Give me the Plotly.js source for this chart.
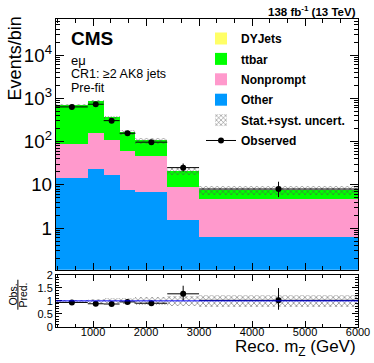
<!DOCTYPE html>
<html>
<head>
<meta charset="utf-8">
<script src="https://cdn.plot.ly/plotly-3.0.1.min.js"></script>
<style>
  html, body { margin: 0; padding: 0; background: #fff; }
  #plot { width: 374px; height: 363px; }
</style>
</head>
<body>
<div id="plot"></div>
<script>
// bin edges of Reco. m_Z (GeV)
const edges = [300, 900, 1200, 1500, 1800, 2400, 3000, 6000];

// pre-fit yields per bin
const other     = [14.7, 23.4, 17.0, 7.8, 7.0, 1.55, 0.62];
const nonprompt = [73.3, 132.6, 93.0, 53.2, 40.5, 7.55, 3.98];
const ttbar     = [612, 704, 252, 104, 58.5, 11.9, 3.1];
const dyjets    = [0.8, 1.0, 0.5, 0.3, 0.2, 0.05, 0.03];

// relative stat.+syst. uncertainty
const uncRel = [0.05, 0.09, 0.10, 0.12, 0.15, 0.20, 0.24];

// observed events
const observed = [633, 731, 305, 156, 97, 25, 8];
const obsErrUp = [25.7, 28.0, 18.0, 13.0, 10.9, 6.1, 3.8];
const obsErrDn = [24.7, 27.0, 17.0, 12.0, 9.9, 4.9, 2.8];

// ratio panel
const ratio      = [0.94, 0.89, 0.88, 0.96, 0.91, 1.27, 1.02];
const ratioErrUp = [0.037, 0.034, 0.05, 0.08, 0.095, 0.31, 0.47];
const ratioErrDn = [0.036, 0.033, 0.05, 0.075, 0.09, 0.25, 0.36];

const centers = edges.slice(0, -1).map((e, i) => (e + edges[i + 1]) / 2);
const widths = edges.slice(0, -1).map((e, i) => edges[i + 1] - e);
const halfW = widths.map(w => w / 2);

const base1 = other;
const base2 = other.map((v, i) => v + nonprompt[i]);
const base3 = base2.map((v, i) => v + ttbar[i]);
const total = base3.map((v, i) => v + dyjets[i]);

const fontFam = "Liberation Sans, Arial, sans-serif";
const hatch = { shape: "x", fgcolor: "#555", bgcolor: "rgba(0,0,0,0)", size: 4, solidity: 0.25 };

function bars(name, y, base, color, rank) {
  const t = {
    type: "bar", name: name, x: centers, y: y, width: widths,
    marker: { color: color, line: { width: 0 } },
    legendrank: rank, legendgroup: name, hoverinfo: "skip"
  };
  if (base) t.base = base;
  return t;
}

const traces = [
  bars("Other", other, null, "#0099ff", 4),
  bars("Nonprompt", nonprompt, base1, "#ff99cc", 3),
  bars("ttbar", ttbar, base2, "#00ff00", 2),
  bars("DYJets", dyjets, base3, "#ffff66", 1),
  {
    type: "bar", name: "Stat.+syst. uncert.", x: centers, width: widths,
    base: total.map((v, i) => v * (1 - uncRel[i])),
    y: total.map((v, i) => v * 2 * uncRel[i]),
    marker: { color: "rgba(0,0,0,0)", line: { width: 0 }, pattern: hatch },
    legendrank: 5, legendgroup: "unc", hoverinfo: "skip"
  },
  {
    type: "scatter", mode: "markers", name: "Observed", x: centers, y: observed,
    marker: { color: "#000", size: 6 },
    error_y: { type: "data", symmetric: false, array: obsErrUp, arrayminus: obsErrDn, color: "#000", thickness: 1, width: 0 },
    error_x: { type: "data", array: halfW, color: "#000", thickness: 1, width: 0 },
    showlegend: false
  },
  {
    type: "scatter", mode: "lines+markers", name: "Observed", x: [null], y: [null],
    marker: { color: "#000", size: 6 }, line: { color: "#000", width: 1 },
    legendrank: 6, legendgroup: "obs"
  },
  {
    type: "bar", x: centers, width: widths, xaxis: "x2", yaxis: "y2",
    base: uncRel.map(u => 1 - u), y: uncRel.map(u => 2 * u),
    marker: { color: "rgba(0,0,0,0)", line: { width: 0 }, pattern: hatch },
    showlegend: false, hoverinfo: "skip"
  },
  {
    type: "scatter", mode: "markers", x: centers, y: ratio, xaxis: "x2", yaxis: "y2",
    marker: { color: "#000", size: 6 },
    error_y: { type: "data", symmetric: false, array: ratioErrUp, arrayminus: ratioErrDn, color: "#000", thickness: 1, width: 0 },
    error_x: { type: "data", array: halfW, color: "#000", thickness: 1, width: 0 },
    showlegend: false
  }
];

// pixel helpers for text placement
const L = 55.7, R = 358.3, T = 19, B = 327.3;
const px = x => (x - L) / (R - L);
const py = y => (B - y) / (B - T);

const axisCommon = {
  showline: true, linecolor: "#000", linewidth: 1, mirror: "allticks",
  ticks: "inside", tickcolor: "#000", showgrid: false, zeroline: false
};

const layout = {
  width: 374, height: 363,
  margin: { l: L, r: 374 - R, t: T, b: 363 - B },
  paper_bgcolor: "#fff", plot_bgcolor: "#fff",
  font: { family: fontFam, color: "#000" },
  barmode: "overlay", bargap: 0,
  showlegend: true,
  legend: {
    x: px(201), y: py(24), xanchor: "left", yanchor: "top",
    bgcolor: "rgba(0,0,0,0)", font: { size: 12, weight: "bold" },
    traceorder: "grouped", tracegroupgap: 1.4
  },
  xaxis: Object.assign({}, axisCommon, {
    domain: [0, 1], anchor: "y", range: [300, 6000], matches: "x2",
    showticklabels: false, dtick: 1000, tick0: 0, ticklen: 7,
    minor: { dtick: 1000 / 3, tick0: 0, ticks: "inside", ticklen: 4, tickcolor: "#000", showgrid: false }
  }),
  yaxis: Object.assign({}, axisCommon, {
    domain: [py(270), 1], anchor: "x", type: "log", range: [-0.963, 4.834],
    dtick: 1, exponentformat: "power", ticklen: 8, tickfont: { size: 15 },
    minor: { ticks: "inside", ticklen: 4, tickcolor: "#000", showgrid: false }
  }),
  xaxis2: Object.assign({}, axisCommon, {
    domain: [0, 1], anchor: "y2", range: [300, 6000],
    dtick: 1000, tick0: 0, ticklen: 6, tickfont: { size: 11 }, ticklabelstandoff: -5,
    minor: { dtick: 1000 / 3, tick0: 0, ticks: "inside", ticklen: 3, tickcolor: "#000", showgrid: false }
  }),
  yaxis2: Object.assign({}, axisCommon, {
    domain: [0, py(275)], anchor: "x2", range: [0, 2],
    dtick: 0.5, ticklen: 6, tickfont: { size: 11 },
    minor: { dtick: 0.1, ticks: "inside", ticklen: 3, tickcolor: "#000", showgrid: false }
  }),
  shapes: [
    { type: "line", xref: "paper", yref: "y2", x0: 0, x1: 1, y0: 1, y1: 1, line: { color: "#0000ff", width: 1 } },
    { type: "line", xref: "paper", yref: "paper", x0: px(17.5), x1: px(17.5), y0: py(280), y1: py(310), line: { color: "#000", width: 1 } }
  ],
  annotations: [
    { text: "<b>138 fb<sup>-1</sup> (13 TeV)</b>", xref: "paper", yref: "paper", x: 1, y: 1, xanchor: "right", yanchor: "bottom", yshift: -1, showarrow: false, font: { size: 11.5 } },
    { text: "<b>CMS</b>", xref: "paper", yref: "paper", x: px(69), y: py(39), xanchor: "left", yanchor: "middle", showarrow: false, font: { size: 19 } },
    { text: "eμ", xref: "paper", yref: "paper", x: px(69), y: py(60.5), xanchor: "left", yanchor: "middle", showarrow: false, font: { size: 13 } },
    { text: "CR1: ≥2 AK8 jets", xref: "paper", yref: "paper", x: px(69), y: py(74), xanchor: "left", yanchor: "middle", showarrow: false, font: { size: 12.5 } },
    { text: "Pre-fit", xref: "paper", yref: "paper", x: px(69), y: py(88), xanchor: "left", yanchor: "middle", showarrow: false, font: { size: 12.5 } },
    { text: "Events/bin", xref: "paper", yref: "paper", x: px(15), y: py(14), xanchor: "center", yanchor: "top", textangle: -90, showarrow: false, font: { size: 18 } },
    { text: "Reco. m<sub>Z</sub> (GeV)", xref: "paper", yref: "paper", x: 1, y: py(348), xanchor: "right", yanchor: "middle", showarrow: false, font: { size: 17 } },
    { text: "Obs.", xref: "paper", yref: "paper", x: px(12.5), y: py(295), xanchor: "center", yanchor: "middle", textangle: -90, showarrow: false, font: { size: 10.5 } },
    { text: "Pred.", xref: "paper", yref: "paper", x: px(22.5), y: py(295), xanchor: "center", yanchor: "middle", textangle: -90, showarrow: false, font: { size: 10.5 } }
  ]
};

Plotly.newPlot("plot", traces, layout, { displayModeBar: false, staticPlot: true });
</script>
</body>
</html>
